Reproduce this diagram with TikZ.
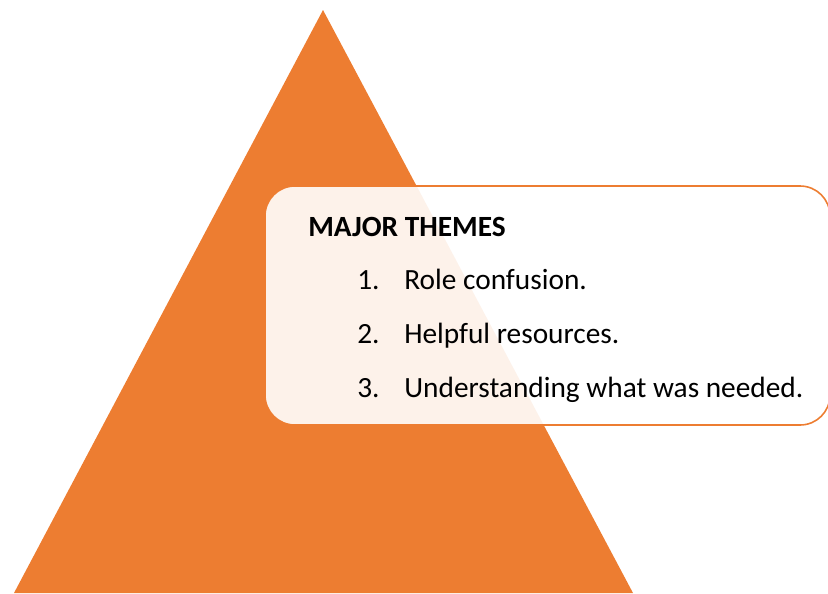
\documentclass[tikz,border=0pt]{standalone}
\usepackage{fontspec}
\setmainfont{Carlito}
\usetikzlibrary{positioning}
\definecolor{tangerine}{RGB}{237,125,49}
\definecolor{ink}{RGB}{0,0,0}
\tikzset{
  themebox/.style={draw=tangerine,line width=0.9pt,fill=white,fill opacity=0.9,
    rounded corners=17pt},
  heading/.style={anchor=base west,inner sep=0pt,font=\fontsize{16.7}{20}\selectfont\bfseries,text=ink},
  num/.style={anchor=base west,inner sep=0pt,font=\fontsize{16.7}{20}\selectfont,text=ink},
  item/.style={anchor=base west,inner sep=0pt,font=\fontsize{16.7}{20}\selectfont,text=ink},
}
\begin{document}
\begin{tikzpicture}[x=0.02cm,y=-0.02cm]
  \useasboundingbox (0,0) rectangle (828,593);
  % pyramid
  \fill[tangerine] (323,10) -- (633,593) -- (14,593) -- cycle;
  % box with the themes
  \begin{scope}
    \clip (0,0) rectangle (828,593);
    \draw[themebox] (265,186) rectangle (830,425);
  \end{scope}
  \node[heading] (title) at (308,236) {MAJOR THEMES};
  \foreach \n/\txt [count=\i] in {1/Role confusion.,2/Helpful resources.,3/Understanding what was needed.} {
    \node[num] (n\i) at (357,236+\i*53.7) {\n.};
    \node[item] (t\i) at (404,236+\i*53.7) {\txt};
  }
\end{tikzpicture}
\end{document}
